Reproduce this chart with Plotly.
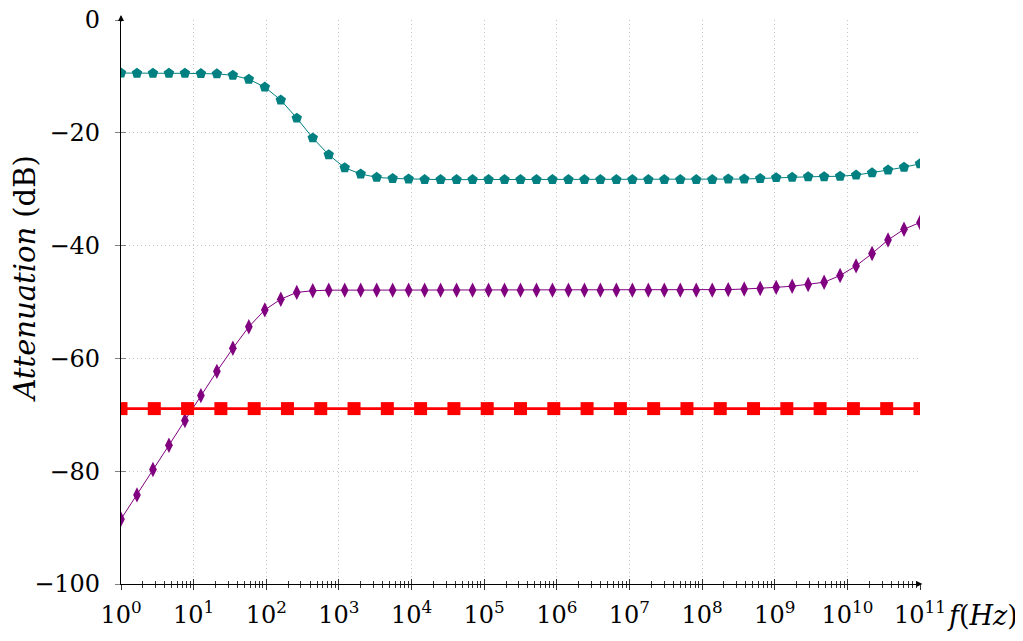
import numpy as np
import plotly.graph_objects as go

# ---- data ----
teal_db = [-9.4, -9.45, -9.45, -9.45, -9.45, -9.5, -9.55, -9.8, -10.5, -11.9,
           -14.2, -17.4, -20.9, -23.9, -26.2, -27.3, -27.9, -28.1, -28.2,
           -28.3, -28.3, -28.3, -28.3, -28.3, -28.3, -28.3, -28.3, -28.3, -28.3,
           -28.3, -28.3, -28.3, -28.3, -28.3, -28.3, -28.3, -28.3, -28.3,
           -28.2, -28.2, -28.1, -27.95, -27.9, -27.8, -27.8, -27.7, -27.5, -27.1,
           -26.6, -26.1, -25.5]
purple_db = [-88.5, -84.2, -79.7, -75.4, -71.0, -66.6, -62.3, -58.2, -54.4, -51.4,
             -49.5, -48.3, -48.0,
             -47.9, -47.9, -47.9, -47.9, -47.9, -47.9, -47.9, -47.9, -47.9, -47.9,
             -47.9, -47.9, -47.9, -47.9, -47.9, -47.9, -47.9, -47.9, -47.9, -47.9,
             -47.9, -47.9, -47.9, -47.9, -47.9,
             -47.8, -47.7, -47.6, -47.4, -47.2, -46.9, -46.5, -45.3, -43.6, -41.4,
             -39.0, -37.1, -35.9]
red_db = [-68.9] * 25

freq_dense = np.logspace(0, 11, len(teal_db))
freq_red = np.logspace(0, 11, len(red_db))

x_tickvals = [10 ** k for k in range(12)]
x_ticktext = ["10<sup>%d</sup>" % k for k in range(12)]
y_tickvals = [0, -20, -40, -60, -80, -100]
y_ticktext = ["0", "\u221220", "\u221240", "\u221260", "\u221280", "\u2212100"]
minor_vals = [m * 10 ** d for d in range(11) for m in range(2, 10)]

FONT = "DejaVu Serif"
FS = 24
GRID = "#c4c4c4"

fig = go.Figure()
fig.add_trace(go.Scatter(x=freq_dense, y=teal_db, mode="lines+markers",
                         line=dict(color="#008080", width=1),
                         marker=dict(symbol="pentagon", size=11, color="#008080"),
                         showlegend=False, hoverinfo="skip"))
fig.add_trace(go.Scatter(x=freq_dense, y=purple_db, mode="lines+markers",
                         line=dict(color="#800080", width=1),
                         marker=dict(symbol="diamond-tall", size=11, color="#800080"),
                         showlegend=False, hoverinfo="skip"))
fig.add_trace(go.Scatter(x=freq_red, y=red_db, mode="lines+markers",
                         line=dict(color="#ff0000", width=2.6),
                         marker=dict(symbol="square", size=13, color="#ff0000"),
                         showlegend=False, hoverinfo="skip"))

common_x = dict(type="log", range=[0, 11], automargin=False)
common_y = dict(range=[-100, 0], automargin=False)

# the page body adds an 8px offset, so margins are reduced accordingly
fig.update_layout(
    width=1023, height=641,
    margin=dict(l=113, r=111, t=12, b=65, autoexpand=False),
    paper_bgcolor="white", plot_bgcolor="white",
    font=dict(family=FONT, size=FS, color="black"),
    xaxis=dict(**common_x,
               tickvals=x_tickvals, ticktext=x_ticktext,
               ticks="outside", ticklen=5, tickcolor="#333333", tickwidth=1,
               ticklabelstandoff=4, ticklabeloverflow="allow",
               minor=dict(tickvals=minor_vals, ticks="outside", ticklen=3,
                          tickcolor="#333333", tickwidth=1, showgrid=False),
               showline=True, linecolor="black", linewidth=1.2,
               showgrid=True, gridcolor=GRID, griddash="1px,3px", gridwidth=1,
               zeroline=False, tickfont=dict(family=FONT, size=FS)),
    yaxis=dict(**common_y,
               tickvals=y_tickvals, ticktext=y_ticktext,
               ticks="outside", ticklen=5, tickcolor="#808080", tickwidth=1,
               ticklabelstandoff=10, ticklabeloverflow="allow",
               showline=True, linecolor="black", linewidth=1.2,
               showgrid=True, gridcolor=GRID, griddash="1px,3px", gridwidth=1,
               zeroline=False, tickfont=dict(family=FONT, size=FS)),
    xaxis2=dict(**common_x, overlaying="x", side="bottom", anchor="y",
                tickvals=x_tickvals, showticklabels=False,
                ticks="inside", ticklen=5, tickcolor="#333333",
                minor=dict(tickvals=minor_vals, ticks="inside", ticklen=3,
                           tickcolor="#333333", showgrid=False),
                showgrid=False, zeroline=False, showline=False),
    yaxis2=dict(**common_y, overlaying="y", side="left", anchor="x",
                tickvals=y_tickvals, showticklabels=False,
                ticks="inside", ticklen=5, tickcolor="#808080",
                showgrid=False, zeroline=False, showline=False),
)

fig.add_trace(go.Scatter(x=[1], y=[-50], xaxis="x2", yaxis="y2", mode="markers",
                         marker=dict(opacity=0), showlegend=False, hoverinfo="skip"))

# axis arrows
fig.add_annotation(x=1.003, y=0, xref="paper", yref="paper", ax=-8, ay=0,
                   showarrow=True, arrowhead=2, arrowsize=1, arrowwidth=1.2,
                   arrowcolor="black", text="")
fig.add_annotation(x=0, y=1.009, xref="paper", yref="paper", ax=0, ay=8,
                   showarrow=True, arrowhead=2, arrowsize=1, arrowwidth=1.2,
                   arrowcolor="black", text="")

# axis titles
fig.add_annotation(text="<i>Attenuation</i> (dB)", x=-0.12, y=0.54,
                   xref="paper", yref="paper", textangle=-90, showarrow=False,
                   font=dict(family=FONT, size=29), xanchor="center", yanchor="middle")
fig.add_annotation(text="<i>f</i>(<i>Hz</i>)", x=1.078, y=-0.055,
                   xref="paper", yref="paper", showarrow=False,
                   font=dict(family=FONT, size=27), xanchor="center", yanchor="middle")

fig.write_html("out.html")
